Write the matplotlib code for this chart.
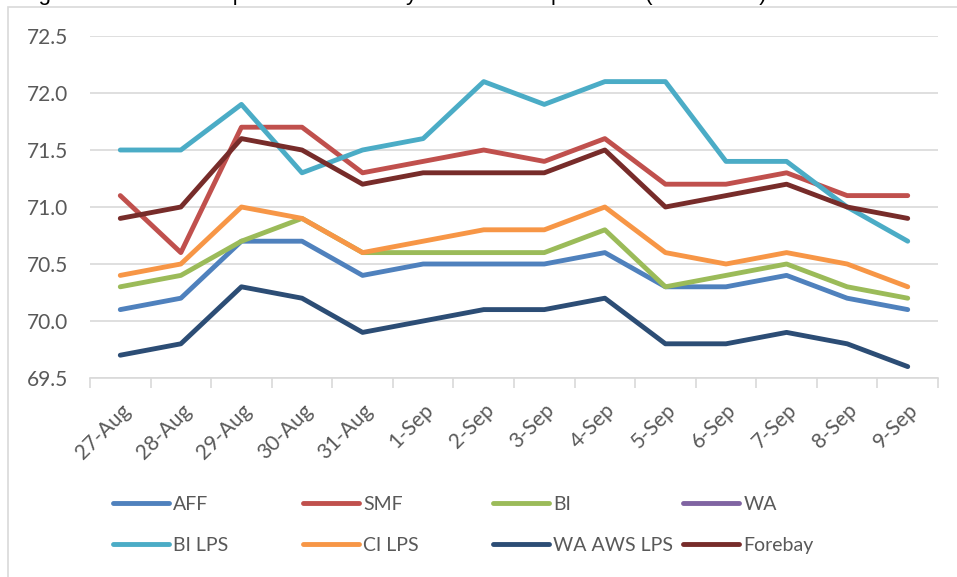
import numpy as np
import matplotlib
matplotlib.use('Agg')
import matplotlib.pyplot as plt
from matplotlib.patches import Rectangle

plt.rcParams['font.family'] = ['Lato', 'DejaVu Sans']

dates = ['27-Aug', '28-Aug', '29-Aug', '30-Aug', '31-Aug', '1-Sep', '2-Sep',
         '3-Sep', '4-Sep', '5-Sep', '6-Sep', '7-Sep', '8-Sep', '9-Sep']

aff = [70.1, 70.2, 70.7, 70.7, 70.4, 70.5, 70.5, 70.5, 70.6, 70.3, 70.3, 70.4, 70.2, 70.1]
smf = [71.1, 70.6, 71.7, 71.7, 71.3, 71.4, 71.5, 71.4, 71.6, 71.2, 71.2, 71.3, 71.1, 71.1]
bi = [70.3, 70.4, 70.7, 70.9, 70.6, 70.6, 70.6, 70.6, 70.8, 70.3, 70.4, 70.5, 70.3, 70.2]
wa = [np.nan] * 14   # no readings shown
bi_lps = [71.5, 71.5, 71.9, 71.3, 71.5, 71.6, 72.1, 71.9, 72.1, 72.1, 71.4, 71.4, 71.0, 70.7]
ci_lps = [70.4, 70.5, 71.0, 70.9, 70.6, 70.7, 70.8, 70.8, 71.0, 70.6, 70.5, 70.6, 70.5, 70.3]
wa_aws_lps = [69.7, 69.8, 70.3, 70.2, 69.9, 70.0, 70.1, 70.1, 70.2, 69.8, 69.8, 69.9, 69.8, 69.6]
forebay = [70.9, 71.0, 71.6, 71.5, 71.2, 71.3, 71.3, 71.3, 71.5, 71.0, 71.1, 71.2, 71.0, 70.9]

names = ['AFF', 'SMF', 'BI', 'WA', 'BI LPS', 'CI LPS', 'WA AWS LPS', 'Forebay']
series = [aff, smf, bi, wa, bi_lps, ci_lps, wa_aws_lps, forebay]
colors = ['#4F81BD', '#C0504D', '#9BBB59', '#8064A2',
          '#4BACC6', '#F79646', '#2C4D75', '#772C2A']

W, H = 957, 577
fig = plt.figure(figsize=(W / 100, H / 100), dpi=100)

# chart frame (cut off on right / bottom)
fig.patches.append(Rectangle((8 / W, -0.1), 1.2, 1 - 7 / H + 0.1,
                             transform=fig.transFigure, fill=False,
                             edgecolor='#D9D9D9', lw=1.2))

# title, clipped by the top edge in the source image
fig.text(20 / W, 1.0, 'Figure 12: Water Temperature Summary at Each Pump Station (Fahrenheit)',
         family=['Liberation Sans'], fontsize=16, va='baseline', ha='left', color='black')

ax = fig.add_axes([90 / W, 1 - 378 / H, 848 / W, 342 / H])
x = np.arange(len(dates))
handles = []
for name, vals, c in zip(names, series, colors):
    ln, = ax.plot(x, vals, color=c, lw=3.5, solid_capstyle='round',
                  solid_joinstyle='round', label=name)
    handles.append(ln)

ax.set_xlim(-0.5, len(dates) - 0.5)
ax.set_ylim(69.5, 72.5)
ax.set_yticks(np.arange(69.5, 72.51, 0.5))
ax.set_yticklabels(['%.1f' % v for v in np.arange(69.5, 72.51, 0.5)])
ax.set_xticks(x)
ax.set_xticklabels(dates, rotation=45, ha='right', va='top', rotation_mode='anchor')
ax.set_xticks(np.arange(-0.5, len(dates), 1), minor=True)
ax.tick_params(axis='x', which='major', length=0, pad=16, labelsize=15, labelcolor='#595959')
ax.tick_params(axis='x', which='minor', length=7, width=1.2, color='#D9D9D9')
ax.tick_params(axis='y', length=0, pad=16, labelsize=15, labelcolor='#595959')
ax.grid(axis='y', color='#D9D9D9', lw=1.2)
ax.set_axisbelow(True)
for s in ['left', 'right', 'top']:
    ax.spines[s].set_visible(False)
ax.spines['bottom'].set_color('#D9D9D9')
ax.spines['bottom'].set_linewidth(1.2)

# legend: 4 columns, 2 rows
col_x = [113, 303, 493, 683]
for i, cx in enumerate(col_x):
    leg = fig.legend([handles[i], handles[i + 4]], [names[i], names[i + 4]],
                     loc='center left', bbox_to_anchor=(cx / W, 1 - 525 / H),
                     frameon=False, fontsize=14, handlelength=2.9,
                     handletextpad=0.2, labelspacing=1.25, borderpad=0,
                     borderaxespad=0)
    for t in leg.get_texts():
        t.set_color('#595959')

fig.savefig('out.png', dpi=100)
